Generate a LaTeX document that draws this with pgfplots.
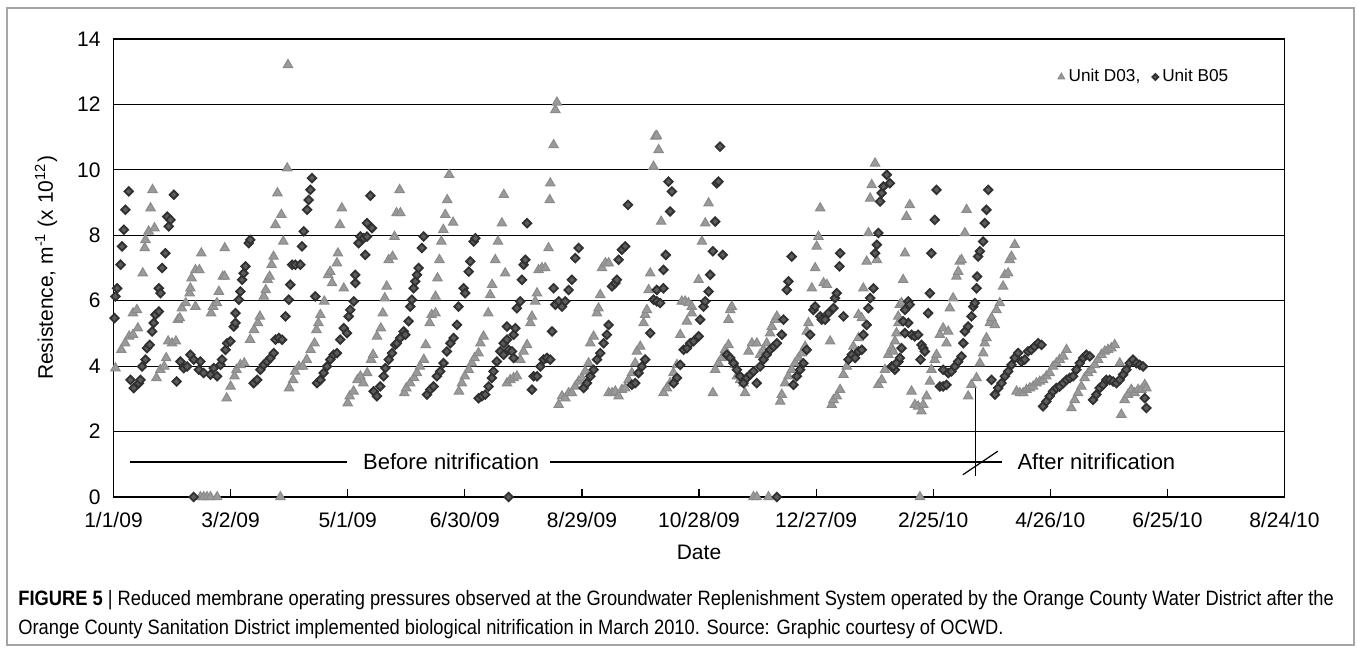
\documentclass[border=0pt]{standalone}
\usepackage{fontspec}
\setmainfont{Liberation Sans}
\newfontfamily\capfont[FakeStretch=0.88]{Liberation Sans}
\usepackage{pgfplots}
\usepackage{pgfplotstable}
\pgfplotsset{compat=1.18}

\definecolor{triG}{HTML}{9A9A9A}
\definecolor{triD}{HTML}{8A8A8A}
\definecolor{diaD}{HTML}{303030}
\definecolor{diaF}{HTML}{5C5C5C}

% day = days since 1/1/09, value = resistance (x 10^12 m^-1)
\pgfplotstableread{
day val
1 3.94
4 4.50
6 4.70
8 4.91
10 4.96
10 5.62
12 5.72
12.5 5.16
15 6.84
16 7.61
16.4 7.86
18 8.12
21 8.22
19 8.83
20 9.39
22 3.64
24 3.89
26 3.99
27 4.25
28 4.76
30 4.70
32 4.76
33 5.42
34 5.47
35 5.77
37 5.93
39 6.23
39.4 6.38
40 6.69
42 6.94
44 6.94
45 7.45
42 5.82
50 5.62
51 5.82
53 5.93
54 6.28
56 6.74
57 6.74
57 7.61
58 3.02
60 3.38
62 3.69
63 3.89
65 4.04
67 4.09
70 4.81
72 5.11
74 5.32
75 5.52
77 6.13
78 6.33
79 6.64
80 6.74
81 7.10
82 7.35
83 8.32
84 9.29
86 8.63
87 7.81
89 10.05
89.4 13.21
90 3.33
92 3.58
93 3.84
95 3.99
97 3.99
99 4.20
101 4.50
103 4.70
104 5.11
105 5.32
106 5.57
108 5.98
110 6.79
111 6.89
112 6.54
114.5 7.15
115 7.45
116 8.32
117 8.83
118 6.38
120 2.87
121 3.08
123 3.23
125 3.58
126.5 3.69
128 3.48
130 3.79
132 4.20
133 4.35
135 4.91
137 5.16
138 5.62
139 6.08
140 6.44
141 7.25
143 7.35
144 7.96
145 8.68
147 8.68
146.6 9.39
149 3.18
150 3.33
152 3.48
154 3.64
155.5 3.79
157 3.99
159 4.20
160 4.65
162 5.32
163 5.57
165 5.62
165 6.13
166 6.69
167 7.25
168 7.81
169 8.17
170 8.63
171 9.08
172 9.85
174 8.39
177 3.23
178.5 3.48
180 3.69
182 3.89
183.6 4.09
185 4.25
187 4.40
188 4.70
189.6 4.91
192 5.62
193 6.18
194 6.49
195.6 7.25
197 7.81
199 8.37
200 9.24
200.7 6.84
201.6 3.48
203.3 3.58
205.0 3.64
206.7 3.69
208.4 4.20
210.1 4.45
211.9 4.65
213.6 5.32
214.4 5.52
216.1 5.98
217.0 6.23
217.8 6.94
219.5 7.00
221.2 7.00
222.9 7.61
223.5 9.08
223.8 9.59
225.5 10.76
226.4 11.83
227.2 12.06
228.1 2.82
229.8 3.08
231.5 3.02
233.2 3.18
234.9 3.18
236.6 3.38
238.3 3.53
240.0 3.64
241.7 3.84
243.4 4.09
244.3 4.70
246.0 4.91
247.7 5.62
248.5 5.77
249.4 6.18
250.3 7.00
252.0 7.15
253.7 7.15
253.7 3.18
255.4 3.18
257.1 3.23
258.8 3.08
260.5 3.28
262.2 3.33
263.9 3.58
265.6 3.79
267.3 4.09
268.2 4.45
269.9 4.60
271.6 5.32
272.4 5.57
273.3 5.72
274.2 6.33
275.0 6.84
276.7 10.10
277.6 11.02
278.4 11.04
279.3 10.61
280.6 8.42
281.8 3.18
283.5 3.33
285.2 3.48
286.9 3.79
288.7 4.04
290.4 4.96
291.2 5.98
292.9 5.98
294.6 5.93
296.3 5.82
293.8 5.37
296.3 5.62
299.8 6.64
301.5 7.81
303.2 8.37
304.9 8.98
307.1 3.18
308.3 3.89
310.0 4.09
311.7 4.25
313.4 4.50
315.1 4.65
315.1 5.42
316.0 5.72
316.8 5.82
318.5 4.04
319.4 3.69
321.1 3.58
322.8 3.48
323.6 3.18
325.4 4.45
327.1 4.70
329.6 4.70
331.3 4.35
333.0 4.50
334.7 4.70
336.4 5.01
337.3 5.21
339.0 5.42
339.9 5.52
341.6 2.92
342.4 3.13
344.1 3.48
345.8 3.69
347.5 3.89
349.2 4.09
351.0 4.25
352.7 4.40
354.4 4.60
355.2 5.06
356.1 5.32
357.8 6.38
359.5 7.00
360.3 7.66
361.2 7.96
362.1 8.83
363.8 6.54
365.5 6.49
367.2 4.76
368.0 2.82
368.9 2.97
370.6 3.08
372.3 3.28
374.0 3.74
375.7 3.99
377.4 4.25
379.1 4.60
381.7 4.86
381.7 5.57
383.4 5.47
384.2 6.38
385.9 7.20
386.8 8.07
387.7 9.13
388.5 9.54
390.2 10.20
391.1 7.25
391.9 3.43
393.6 3.58
395.3 3.89
397.0 4.35
398.7 4.55
400.4 4.76
402.2 5.32
399.5 4.45
401.2 5.01
402.1 5.52
402.9 5.88
403.8 5.93
404.6 6.64
405.5 7.45
406.3 8.57
408.0 8.93
408.9 3.23
410.6 2.82
412.3 2.77
414.0 2.62
414.9 2.82
416.6 3.08
418.3 3.53
419.1 3.89
420.8 4.20
421.7 4.35
423.4 4.96
425.1 5.16
426.8 4.70
427.7 5.06
428.5 5.77
430.2 6.08
431.9 6.74
432.8 6.89
433.6 7.20
434.5 7.25
436.2 8.07
437.1 8.78
437.9 3.08
439.6 3.43
442.2 3.64
443.9 4.09
445.6 4.40
446.4 4.70
447.3 4.86
449.0 5.32
449.9 5.47
451.6 5.26
452.4 5.72
454.1 5.93
455.8 6.44
456.7 6.79
458.4 6.84
459.2 7.25
460.1 7.35
461.8 7.71
462.7 3.23
464.4 3.18
466.1 3.18
467.8 3.28
469.5 3.33
471.2 3.38
472.9 3.48
474.6 3.53
476.3 3.58
478.0 3.69
479.7 3.79
481.4 3.99
483.1 4.09
484.8 4.20
486.6 4.30
488.3 4.50
490.8 2.72
492.5 2.97
494.2 3.18
495.9 3.38
497.6 3.64
499.4 3.79
501.1 3.89
502.8 4.04
504.5 4.20
506.2 4.35
507.9 4.45
509.6 4.50
511.3 4.55
513.0 4.65
515.6 4.09
516.4 2.52
518.1 2.97
519.8 3.13
521.5 3.28
523.2 3.18
525.0 3.28
526.7 3.28
528.4 3.43
529.2 3.33
44.5 0
46.2 0
47.9 0
49.7 0
53.1 0
85.5 0
327.9 0
329.6 0
335.6 0
413.2 0
}\unitD

\pgfplotstableread{
day val
0.5 5.47
1.0 6.13
1.9 6.38
3.6 7.10
4.4 7.66
5.3 8.17
6.1 8.78
7.8 9.34
8.7 3.58
10.4 3.33
13.0 3.48
13.8 3.58
14.7 3.99
16.4 4.20
17.2 4.55
18.6 4.65
19.8 5.06
20.6 5.32
21.5 5.57
23.2 5.67
23.2 6.38
24.1 6.23
24.9 7.00
26.6 7.45
27.5 8.57
28.3 8.27
29.2 8.47
30.9 9.24
32.3 3.53
34.3 4.14
36.0 3.94
37.7 3.99
39.4 4.35
41.1 4.20
43.7 3.89
44.5 4.14
46.2 3.79
49.7 3.74
51.4 3.94
53.1 3.69
54.8 4.04
55.6 4.20
57.4 4.50
58.2 4.70
59.9 4.76
61.6 5.21
62.5 5.32
62.5 5.62
64.2 6.03
65.0 6.28
65.9 6.64
66.7 6.84
67.6 7.05
69.3 7.76
70.1 7.86
71.8 3.48
73.6 3.58
75.3 3.89
77.0 4.04
78.7 4.14
80.4 4.25
82.1 4.40
83.0 4.81
84.7 4.86
86.4 4.81
88.1 5.52
89.8 6.03
90.6 6.49
91.5 7.10
93.2 7.10
95.7 7.10
96.6 7.66
97.5 8.12
99.2 8.78
100.0 9.08
100.9 9.39
101.7 9.75
103.4 6.13
104.3 3.48
106.0 3.58
107.7 3.79
109.4 3.99
111.1 4.20
112.8 4.35
114.5 4.40
116.2 4.81
118.0 5.16
119.6 5.01
120.5 5.52
121.3 5.72
123.1 5.98
123.9 6.54
123.9 6.79
125.6 7.76
126.5 7.96
128.2 7.91
129.9 7.96
129.0 7.40
129.9 8.37
132.4 8.22
131.6 9.21
133.3 3.23
135.0 3.08
136.7 3.38
138.4 3.69
139.3 3.94
141.0 4.20
142.7 4.40
144.4 4.65
145.2 4.70
146.9 4.86
148.7 5.06
149.5 4.96
151.2 5.37
152.1 5.82
152.9 6.03
153.8 6.38
154.6 6.59
155.5 6.79
156.3 7.00
158.0 7.61
158.9 7.96
160.6 3.13
162.3 3.28
164.0 3.38
165.7 3.69
167.4 3.84
169.1 4.09
170.8 4.45
172.6 4.70
174.3 4.86
176.0 5.26
176.8 5.82
179.4 6.38
180.2 6.23
182.0 6.89
182.8 7.20
184.5 7.81
185.4 7.91
187.1 3.02
188.8 3.08
190.5 3.13
192.2 3.38
193.9 3.64
194.7 3.84
196.4 4.14
198.2 4.45
199.9 4.70
201.6 5.21
199.9 4.35
201.6 4.81
202.5 4.50
204.2 4.45
205.0 4.25
205.0 4.96
205.9 5.16
206.7 5.77
208.4 5.98
209.3 6.64
210.1 7.10
211.0 7.25
211.9 8.37
214.4 3.28
215.3 3.69
217.0 3.69
218.7 3.99
220.4 4.20
222.1 4.25
223.8 4.20
224.7 5.06
225.5 6.38
226.4 5.88
228.1 5.98
229.8 5.82
231.5 5.98
233.2 6.33
234.9 6.64
236.6 7.30
238.3 7.61
240.9 3.33
242.6 3.48
244.3 3.69
246.0 3.89
247.7 4.20
249.4 4.40
251.1 4.70
252.8 4.96
253.7 5.26
255.4 6.44
257.1 6.54
257.9 6.64
258.8 7.25
260.5 7.56
262.2 7.66
263.6 8.93
265.6 3.43
267.3 3.48
269.0 3.79
270.7 3.99
272.4 4.20
275.0 5.01
276.7 6.03
278.4 5.98
280.1 5.93
278.4 6.33
281.8 6.38
281.8 6.94
283.0 7.40
284.4 9.64
286.1 9.34
285.2 8.73
287.0 3.48
288.7 3.64
290.4 4.04
292.1 4.50
293.8 4.55
295.5 4.70
297.2 4.76
299.8 4.91
300.6 5.42
302.3 5.82
303.2 5.98
304.9 6.28
305.7 6.79
307.1 7.51
312.2 7.40
308.3 8.42
309.1 9.59
310.0 9.64
310.8 10.71
314.3 4.35
316.0 4.25
317.7 4.09
319.4 3.89
321.1 3.69
322.8 3.48
324.5 3.64
326.2 3.74
327.9 3.84
329.6 3.48
331.3 3.99
333.0 4.20
334.7 4.35
336.4 4.50
338.2 4.60
339.9 4.70
342.4 4.96
343.3 5.42
345.0 6.33
345.8 6.59
347.5 7.35
348.4 3.43
350.1 3.69
351.8 3.89
353.5 4.09
355.2 4.50
356.9 4.96
358.6 5.72
359.5 5.82
362.1 5.52
362.9 5.42
364.6 5.42
366.3 5.62
368.9 5.77
369.7 6.08
370.6 6.23
372.0 7.05
372.3 7.45
374.0 5.52
376.6 4.20
378.3 4.35
380.0 4.25
381.7 4.45
383.4 4.50
384.2 4.96
385.9 5.26
386.8 5.77
387.7 6.08
389.4 6.38
390.2 7.45
391.1 7.71
391.9 8.07
392.8 9.03
393.6 9.29
394.5 9.49
396.2 9.85
398.7 3.99
400.4 3.89
402.2 4.14
397.8 9.59
399.5 3.99
401.2 4.09
402.9 4.25
403.8 4.55
405.5 5.01
407.2 5.32
408.9 4.96
410.6 4.91
412.3 4.96
414.0 4.65
414.9 4.55
415.7 4.45
404.6 5.37
405.5 5.72
407.2 5.98
408.0 5.88
413.5 4.20
417.4 5.62
418.3 6.23
419.1 7.45
420.8 8.47
421.7 9.39
423.4 3.38
425.1 3.38
426.8 3.43
425.1 3.89
427.7 3.79
429.4 3.84
431.1 3.99
432.8 4.14
434.5 4.30
435.4 4.70
436.2 5.06
437.9 5.21
439.6 5.52
440.5 5.82
441.3 5.93
442.2 6.38
442.5 6.74
443.0 7.35
443.9 7.51
445.6 7.81
446.4 8.37
447.3 8.78
448.2 9.39
449.9 3.58
451.6 3.13
453.3 3.33
455.0 3.48
456.7 3.69
458.4 3.84
460.1 4.04
461.8 4.25
463.5 4.40
465.2 4.14
466.9 4.20
468.6 4.45
470.3 4.50
472.0 4.60
473.8 4.70
475.5 4.65
476.3 2.77
478.0 2.92
479.7 3.08
481.4 3.23
483.1 3.33
484.8 3.38
486.6 3.48
488.3 3.58
490.0 3.64
491.7 3.69
493.4 3.89
495.1 4.09
496.8 4.25
498.5 4.35
500.2 4.30
501.9 2.97
503.6 3.13
505.3 3.33
507.0 3.43
508.7 3.58
510.4 3.58
512.2 3.53
513.9 3.48
515.6 3.58
517.3 3.74
519.0 3.89
520.7 4.09
522.4 4.20
524.1 4.09
525.8 4.04
527.5 3.99
528.4 3.02
529.2 2.72
41.1 0
202.5 0
339.9 0
}\unitB

\begin{document}
\begin{tikzpicture}
\path[use as bounding box] (-56.75pt,-77.5pt) rectangle (622.25pt,248.5pt);
\draw[gray!70, line width=0.8pt] (-53.25pt,-74pt) rectangle (620.25pt,244.5pt);
\begin{axis}[
    at={(0,0)}, anchor=south west,
    scale only axis,
    width=585.5pt, height=229pt,
    xmin=0, xmax=600, ymin=0, ymax=14,
    xtick={0,60,...,600},
    xticklabels={1/1/09,3/2/09,5/1/09,6/30/09,8/29/09,10/28/09,12/27/09,2/25/10,4/26/10,6/25/10,8/24/10},
    ytick={0,2,...,14},
    ymajorgrids,
    grid style={black, line width=0.6pt},
    axis line style={black, line width=0.8pt},
    tick align=inside,
    xtick pos=bottom,
    major tick length=4pt,
    xtick style={black, line width=0.6pt},
    ytick style={draw=none},
    /pgf/number format/assume math mode=true,
    tick label style={font=\fontsize{10.5}{12}\selectfont},
    xticklabel style={yshift=-4pt},
    yticklabel style={xshift=-3pt},
    xlabel={Date},
    ylabel={Resistence, m\textsuperscript{-1} (x 10\textsuperscript{12})},
    label style={font=\fontsize{10.5}{12}\selectfont},
    xlabel style={yshift=-2pt},
    ylabel style={yshift=3pt},
    clip=false,
    legend columns=2,
    legend style={draw=none, fill=none, at={(0.881,0.917)}, anchor=center,
        font=\fontsize{8.6}{10}\selectfont, /tikz/every even column/.append style={column sep=4pt}},
    legend image post style={scale=0.7},
]
\addplot[only marks, mark=triangle*, mark size=2.7pt,
    mark options={draw=triD, fill=triG, line width=0.5pt}] table[x=day, y=val] {\unitD};
\addlegendentry{Unit D03,}
\addplot[only marks, mark=square*, mark size=1.5pt,
    mark options={draw=diaD, fill=diaF, line width=0.9pt, rotate=45}] table[x=day, y=val] {\unitB};
\addlegendentry{Unit B05}

\draw[black, line width=0.6pt] (axis cs:8.7,1.07) -- (axis cs:119.8,1.07);
\node[font=\fontsize{11}{13}\selectfont] at (axis cs:173,1.07) {Before nitrification};
\draw[black, line width=0.6pt] (axis cs:223.8,1.07) -- (axis cs:455,1.07);
\draw[black, line width=0.6pt] (axis cs:441.7,0.63) -- (axis cs:441.7,3.33);
\draw[black, line width=0.6pt] (axis cs:435.2,0.68) -- (axis cs:453.1,1.4);
\node[font=\fontsize{11}{13}\selectfont, anchor=west, inner sep=0pt] at (axis cs:463,1.07) {After nitrification};
\end{axis}
\node[anchor=west, inner sep=0pt, font=\capfont\fontsize{10.4}{12}\selectfont] at (-47.75pt,-51.5pt)
  {\textbf{FIGURE 5} | Reduced membrane operating pressures observed at the Groundwater Replenishment System operated by the Orange County Water District after the};
\node[anchor=west, inner sep=0pt, font=\capfont\fontsize{10.4}{12}\selectfont] at (-47.75pt,-66pt)
  {Orange County Sanitation District implemented biological nitrification in March 2010. Source: Graphic courtesy of OCWD.};
\end{tikzpicture}
\end{document}
